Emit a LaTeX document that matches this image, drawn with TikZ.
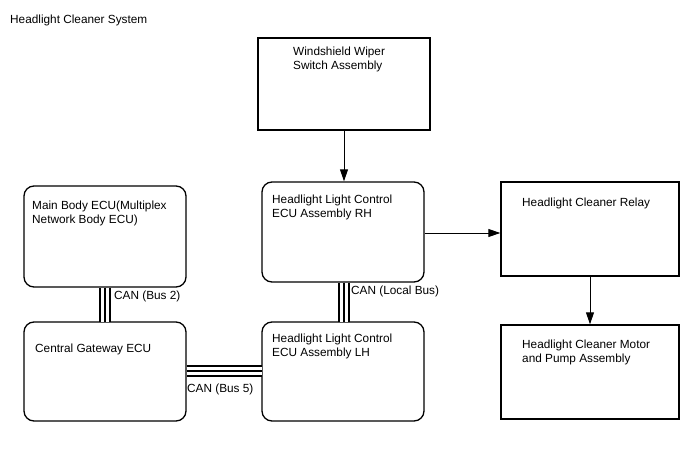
\documentclass[tikz,border=0pt]{standalone}
\usepackage{fontspec}
\setmainfont{Liberation Sans}
\usetikzlibrary{arrows.meta}
\begin{document}
\begin{tikzpicture}[x=1pt,y=-1pt,
  box/.style={draw,line width=1.3pt,inner sep=0pt},
  rbox/.style={box,rounded corners=10pt},
  txt/.style={inner sep=0pt,anchor=north west,align=left,font=\fontsize{11.8}{14}\selectfont},
  arr/.style={line width=1pt,-{Triangle[length=12pt,width=8pt]}},
  bus/.style={line width=12pt,black,postaction={draw,white,line width=7.5pt,postaction={draw,black,line width=2.6pt}}}
]
\useasboundingbox (0,0) rectangle (688,463);
\node[txt] (title) at (10,15) {Headlight Cleaner System};
% boxes
\draw[box] (258,38) rectangle (430,130);
\draw[rbox] (24,186) rectangle (186,287);
\draw[rbox] (262,182) rectangle (424,282);
\draw[box] (501,182) rectangle (679,276);
\draw[rbox] (24,322) rectangle (186,421);
\draw[rbox] (262,322) rectangle (424,421);
\draw[box] (501,325) rectangle (679,419);
% texts
\node[txt] (twiper) at (293,47) {Windshield Wiper\\Switch Assembly};
\node[txt] (tmain) at (32,201) {Main Body ECU(Multiplex\\Network Body ECU)};
\node[txt] (trh) at (272,195) {Headlight Light Control\\ECU Assembly RH};
\node[txt] (trelay) at (522,198) {Headlight Cleaner Relay};
\node[txt] (tgw) at (35,344) {Central Gateway ECU};
\node[txt] (tlh) at (272,334) {Headlight Light Control\\ECU Assembly LH};
\node[txt] (tmotor) at (522,340) {Headlight Cleaner Motor\\and Pump Assembly};
% buses
\draw[bus] (105,287.5) -- (105,321.5);
\draw[bus] (344,282.5) -- (344,321.5);
\draw[bus] (186.5,371) -- (261.5,371);
\node[txt] (lb2) at (114,291) {CAN (Bus 2)};
\node[txt] (llb) at (351,286) {CAN (Local Bus)};
\node[txt] (lb5) at (187,384) {CAN (Bus 5)};
% arrows
\draw[arr] (344,130.7) -- (344,181.3);
\draw[arr] (424.7,233) -- (500.3,233);
\draw[arr] (590,276.7) -- (590,324.3);
\end{tikzpicture}
\end{document}
